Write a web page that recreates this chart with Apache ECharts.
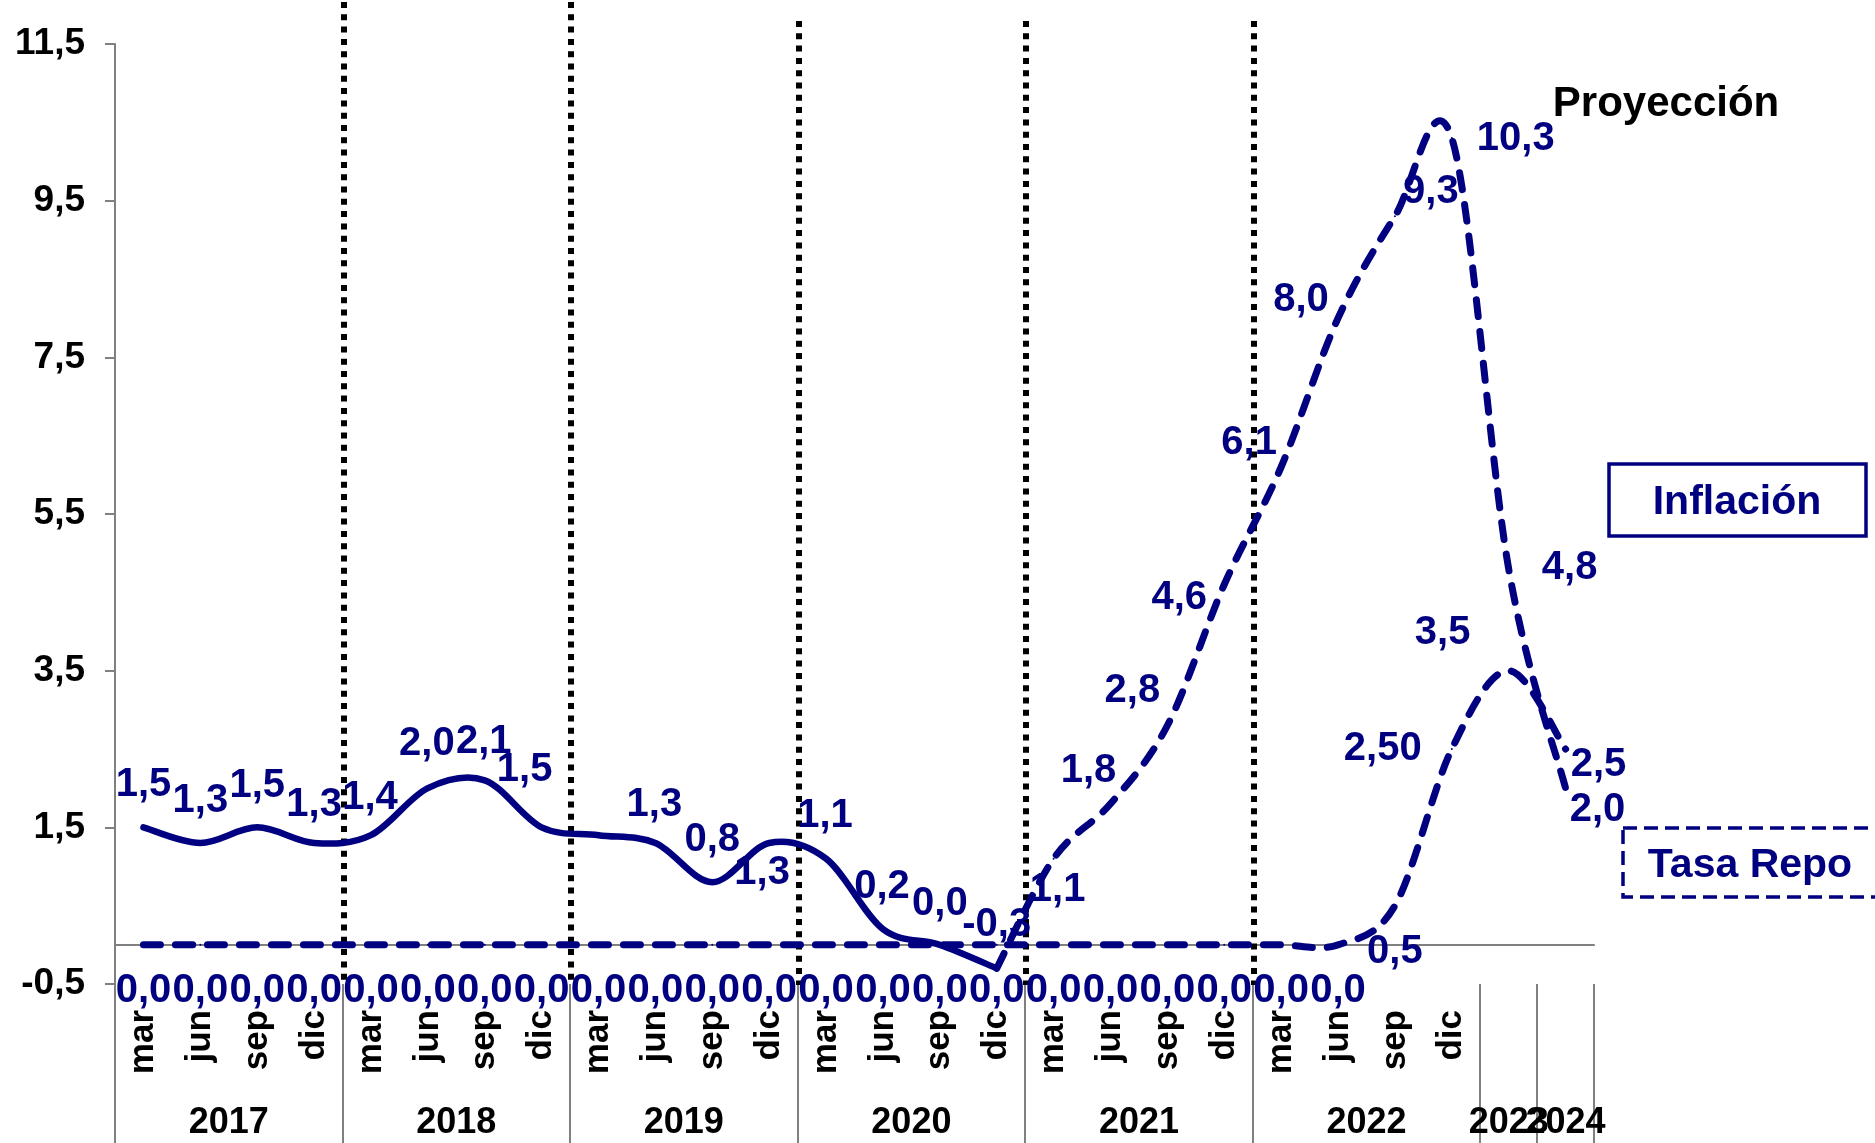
<!DOCTYPE html>
<html>
<head>
<meta charset="utf-8">
<script src="https://cdn.jsdelivr.net/npm/echarts@6/dist/echarts.min.js"></script>
<style>
html,body{margin:0;padding:0;background:#ffffff;}
#c{width:1875px;height:1143px;}
</style>
</head>
<body>
<div id="c"></div>
<script>
// ---------- data ----------
const months = ['mar','jun','sep','dic','mar','jun','sep','dic','mar','jun','sep','dic',
                'mar','jun','sep','dic','mar','jun','sep','dic','mar','jun','sep','dic','',''];
const years = ['2017','2018','2019','2020','2021','2022','2023','2024'];
const yearSpan = [4,4,4,4,4,4,1,1];
const inflation = [1.5,1.3,1.5,1.3, 1.4,2.0,2.1,1.5, 1.4,1.3,0.8,1.3,
                   1.1,0.2,0.0,-0.3, 1.1,1.8,2.8,4.6, 6.1,8.0,9.3,10.3, 4.8,2.0];
const repo = [0,0,0,0, 0,0,0,0, 0,0,0,0, 0,0,0,0, 0,0,0,0, 0,0,0.5,2.5, 3.5,2.5];
const projStart = 15;          // first point of the dashed (projected) inflation
const yMin = -0.5, yMax = 11.5, yStep = 2;

// ---------- label placement (styling, not data) ----------
const inflLabelOffset = [
  [0,-42],[0,-42],[0,-41],[0,-38],[-1,-37],[-1,-44],[-1,-38],[-17,-57],
  null,[-1,-38],[0,-42],[-7,30],[-1,-43],[-1,-42],[0,-41],[0,-43],
  [4,31],[-22,-33],[-35,-35],[-45,13],[-32,-24],[-37,-18],[36,-24],[64,1],
  [61,-1],[32,22]
];
const repoLabelOffset = repo.map((v,i)=> i<=22 ? [0,46] : null);
repoLabelOffset[23] = [-69,0];
repoLabelOffset[24] = [-66,-38];
repoLabelOffset[25] = [33,16];

const NAVY = '#000080';
const GRAY = '#808080';
const FONT = '"Liberation Sans", Arial, sans-serif';
const fmt = (v, d) => v.toFixed(d).replace('.', ',');
const DASH = [17, 15];

function lbl(off, show, text) {
  return {
    show: show, position: 'inside', offset: off || [0,0],
    color: NAVY, fontSize: 40, fontWeight: 'bold', fontFamily: FONT,
    formatter: text
  };
}

const solidData = inflation.map((v,i) => i <= projStart
  ? {value: v, label: lbl(inflLabelOffset[i], inflLabelOffset[i] != null, fmt(v,1))} : '-');
const dashData = inflation.map((v,i) => i >= projStart
  ? {value: v, label: lbl(inflLabelOffset[i], i > projStart, fmt(v,1))} : '-');
const repoData = repo.map((v,i) => ({
  value: v, label: lbl(repoLabelOffset[i], true, fmt(v, i === 23 ? 2 : 1))
}));

// curve data (index, value) pairs for the smoothed paths
const solidPts = inflation.slice(0, projStart + 1).map((v,i) => [i, v]);
const dashPts = inflation.slice(projStart).map((v,k) => [k + projStart, v]);
const repoPts = repo.map((v,i) => [i, v]);

// Excel-like smoothing (Catmull-Rom converted to cubic Bezier), through the axis scales
function curveRenderer(dash, width) {
  return function (params, api) {
    if (params.dataIndexInside !== 0) return null;
    const n = params.dataInsideLength;
    const pts = [];
    for (let i = 0; i < n; i++) pts.push(api.coord([api.value(0, i), api.value(1, i)]));
    let d = 'M' + pts[0][0] + ' ' + pts[0][1];
    for (let i = 0; i < n - 1; i++) {
      const p0 = pts[Math.max(i - 1, 0)], p1 = pts[i], p2 = pts[i + 1], p3 = pts[Math.min(i + 2, n - 1)];
      const c1x = p1[0] + (p2[0] - p0[0]) / 6, c1y = p1[1] + (p2[1] - p0[1]) / 6;
      const c2x = p2[0] - (p3[0] - p1[0]) / 6, c2y = p2[1] - (p3[1] - p1[1]) / 6;
      d += ' C' + c1x + ' ' + c1y + ' ' + c2x + ' ' + c2y + ' ' + p2[0] + ' ' + p2[1];
    }
    return {
      type: 'path', silent: true,
      shape: {pathData: d},
      style: {fill: 'none', stroke: NAVY, lineWidth: width, lineDash: dash, lineCap: 'round', lineJoin: 'round'}
    };
  };
}

const chart = echarts.init(document.getElementById('c'), null, {renderer: 'canvas'});

const labelSeries = (name, data) => ({
  name: name, type: 'line', xAxisIndex: 0, data: data,
  symbol: 'circle', symbolSize: 2, showSymbol: true, showAllSymbol: true,
  itemStyle: {color: NAVY}, lineStyle: {opacity: 0, width: 0}, silent: true, z: 4
});

const option = {
  animation: false,
  backgroundColor: '#ffffff',
  textStyle: {fontFamily: FONT},
  grid: {left: 115, right: 281, top: 44, bottom: 159, containLabel: false},
  xAxis: [
    {
      type: 'category', data: months, boundaryGap: true,
      axisLine: {show: true, onZero: true, lineStyle: {color: GRAY, width: 2}},
      axisTick: {show: false}, axisLabel: {show: false}, splitLine: {show: false}
    },
    {
      type: 'category', data: months, boundaryGap: true, position: 'bottom',
      axisLine: {show: false, onZero: false},
      axisTick: {
        show: true, length: 159, alignWithLabel: false,
        interval: (i) => (i % 4 === 0) || i >= 24,
        lineStyle: {color: GRAY, width: 2}
      },
      axisLabel: {
        show: true, interval: 0, rotate: 90, margin: 26,
        color: '#000', fontSize: 35, fontWeight: 'bold', fontFamily: FONT
      },
      splitLine: {show: false}
    }
  ],
  yAxis: {
    type: 'value', min: yMin, max: yMax, interval: yStep,
    axisLine: {show: true, lineStyle: {color: GRAY, width: 2}},
    axisTick: {show: true, inside: false, length: 10, lineStyle: {color: GRAY, width: 2}},
    axisLabel: {
      margin: 30, color: '#000', fontSize: 37, fontWeight: 'bold', fontFamily: FONT,
      formatter: (v) => fmt(v, 1)
    },
    splitLine: {show: false}
  },
  series: [
    {name: 'Tasa Repo curve', type: 'custom', xAxisIndex: 0, data: repoPts,
     encode: {x: 0, y: 1}, renderItem: curveRenderer(DASH, 7), z: 2, silent: true},
    {name: 'Inflación curve', type: 'custom', xAxisIndex: 0, data: solidPts,
     encode: {x: 0, y: 1}, renderItem: curveRenderer(null, 6.5), z: 3, silent: true},
    {name: 'Inflación proyectada curve', type: 'custom', xAxisIndex: 0, data: dashPts,
     encode: {x: 0, y: 1}, renderItem: curveRenderer(DASH, 7), z: 3, silent: true},
    labelSeries('Tasa Repo', repoData),
    labelSeries('Inflación', solidData),
    labelSeries('Inflación proyectada', dashData)
  ]
};
chart.setOption(option);

// ---------- annotations positioned from the axis scale ----------
const cx = (i) => chart.convertToPixel({xAxisIndex: 0}, i);
const band = cx(1) - cx(0);
const boundary = (i) => cx(i) - band / 2;
const yBottom = chart.convertToPixel({yAxisIndex: 0}, yMin);

const graphics = [];
const dottedAt = [4, 8, 12, 16, 20];
const dottedTop = [2, 2, 21, 21, 21];
dottedAt.forEach((idx, k) => {
  const x = Math.round(boundary(idx)) + 1;
  graphics.push({
    type: 'line', silent: true, z: 1,
    shape: {x1: x, y1: dottedTop[k], x2: x, y2: yBottom + 1},
    style: {stroke: '#000', lineWidth: 6, lineDash: [6, 6.3]}
  });
});
let start = 0;
years.forEach((yr, k) => {
  const first = start, last = start + yearSpan[k] - 1;
  const x = (cx(first) + cx(last)) / 2;
  graphics.push({
    type: 'text', silent: true, z: 5,
    style: {text: yr, x: x, y: 1123, align: 'center', verticalAlign: 'middle',
            fill: '#000', font: 'bold 36px ' + FONT}
  });
  start += yearSpan[k];
});
graphics.push({
  type: 'text', silent: true, z: 5,
  style: {text: 'Proyección', x: 1666, y: 104, align: 'center', verticalAlign: 'middle',
          fill: '#000', font: 'bold 42px ' + FONT}
});
graphics.push({
  type: 'rect', silent: true, z: 5,
  shape: {x: 1609, y: 464, width: 257, height: 72},
  style: {fill: '#fff', stroke: NAVY, lineWidth: 3.5}
});
graphics.push({
  type: 'text', silent: true, z: 6,
  style: {text: 'Inflación', x: 1737, y: 503, align: 'center', verticalAlign: 'middle',
          fill: NAVY, font: 'bold 41px ' + FONT}
});
graphics.push({
  type: 'rect', silent: true, z: 5,
  shape: {x: 1623, y: 828, width: 275, height: 69},
  style: {fill: '#fff', stroke: NAVY, lineWidth: 3.5, lineDash: [14, 7]}
});
graphics.push({
  type: 'text', silent: true, z: 6,
  style: {text: 'Tasa Repo', x: 1750, y: 866, align: 'center', verticalAlign: 'middle',
          fill: NAVY, font: 'bold 41px ' + FONT}
});
chart.setOption({graphic: graphics});
</script>
</body>
</html>
